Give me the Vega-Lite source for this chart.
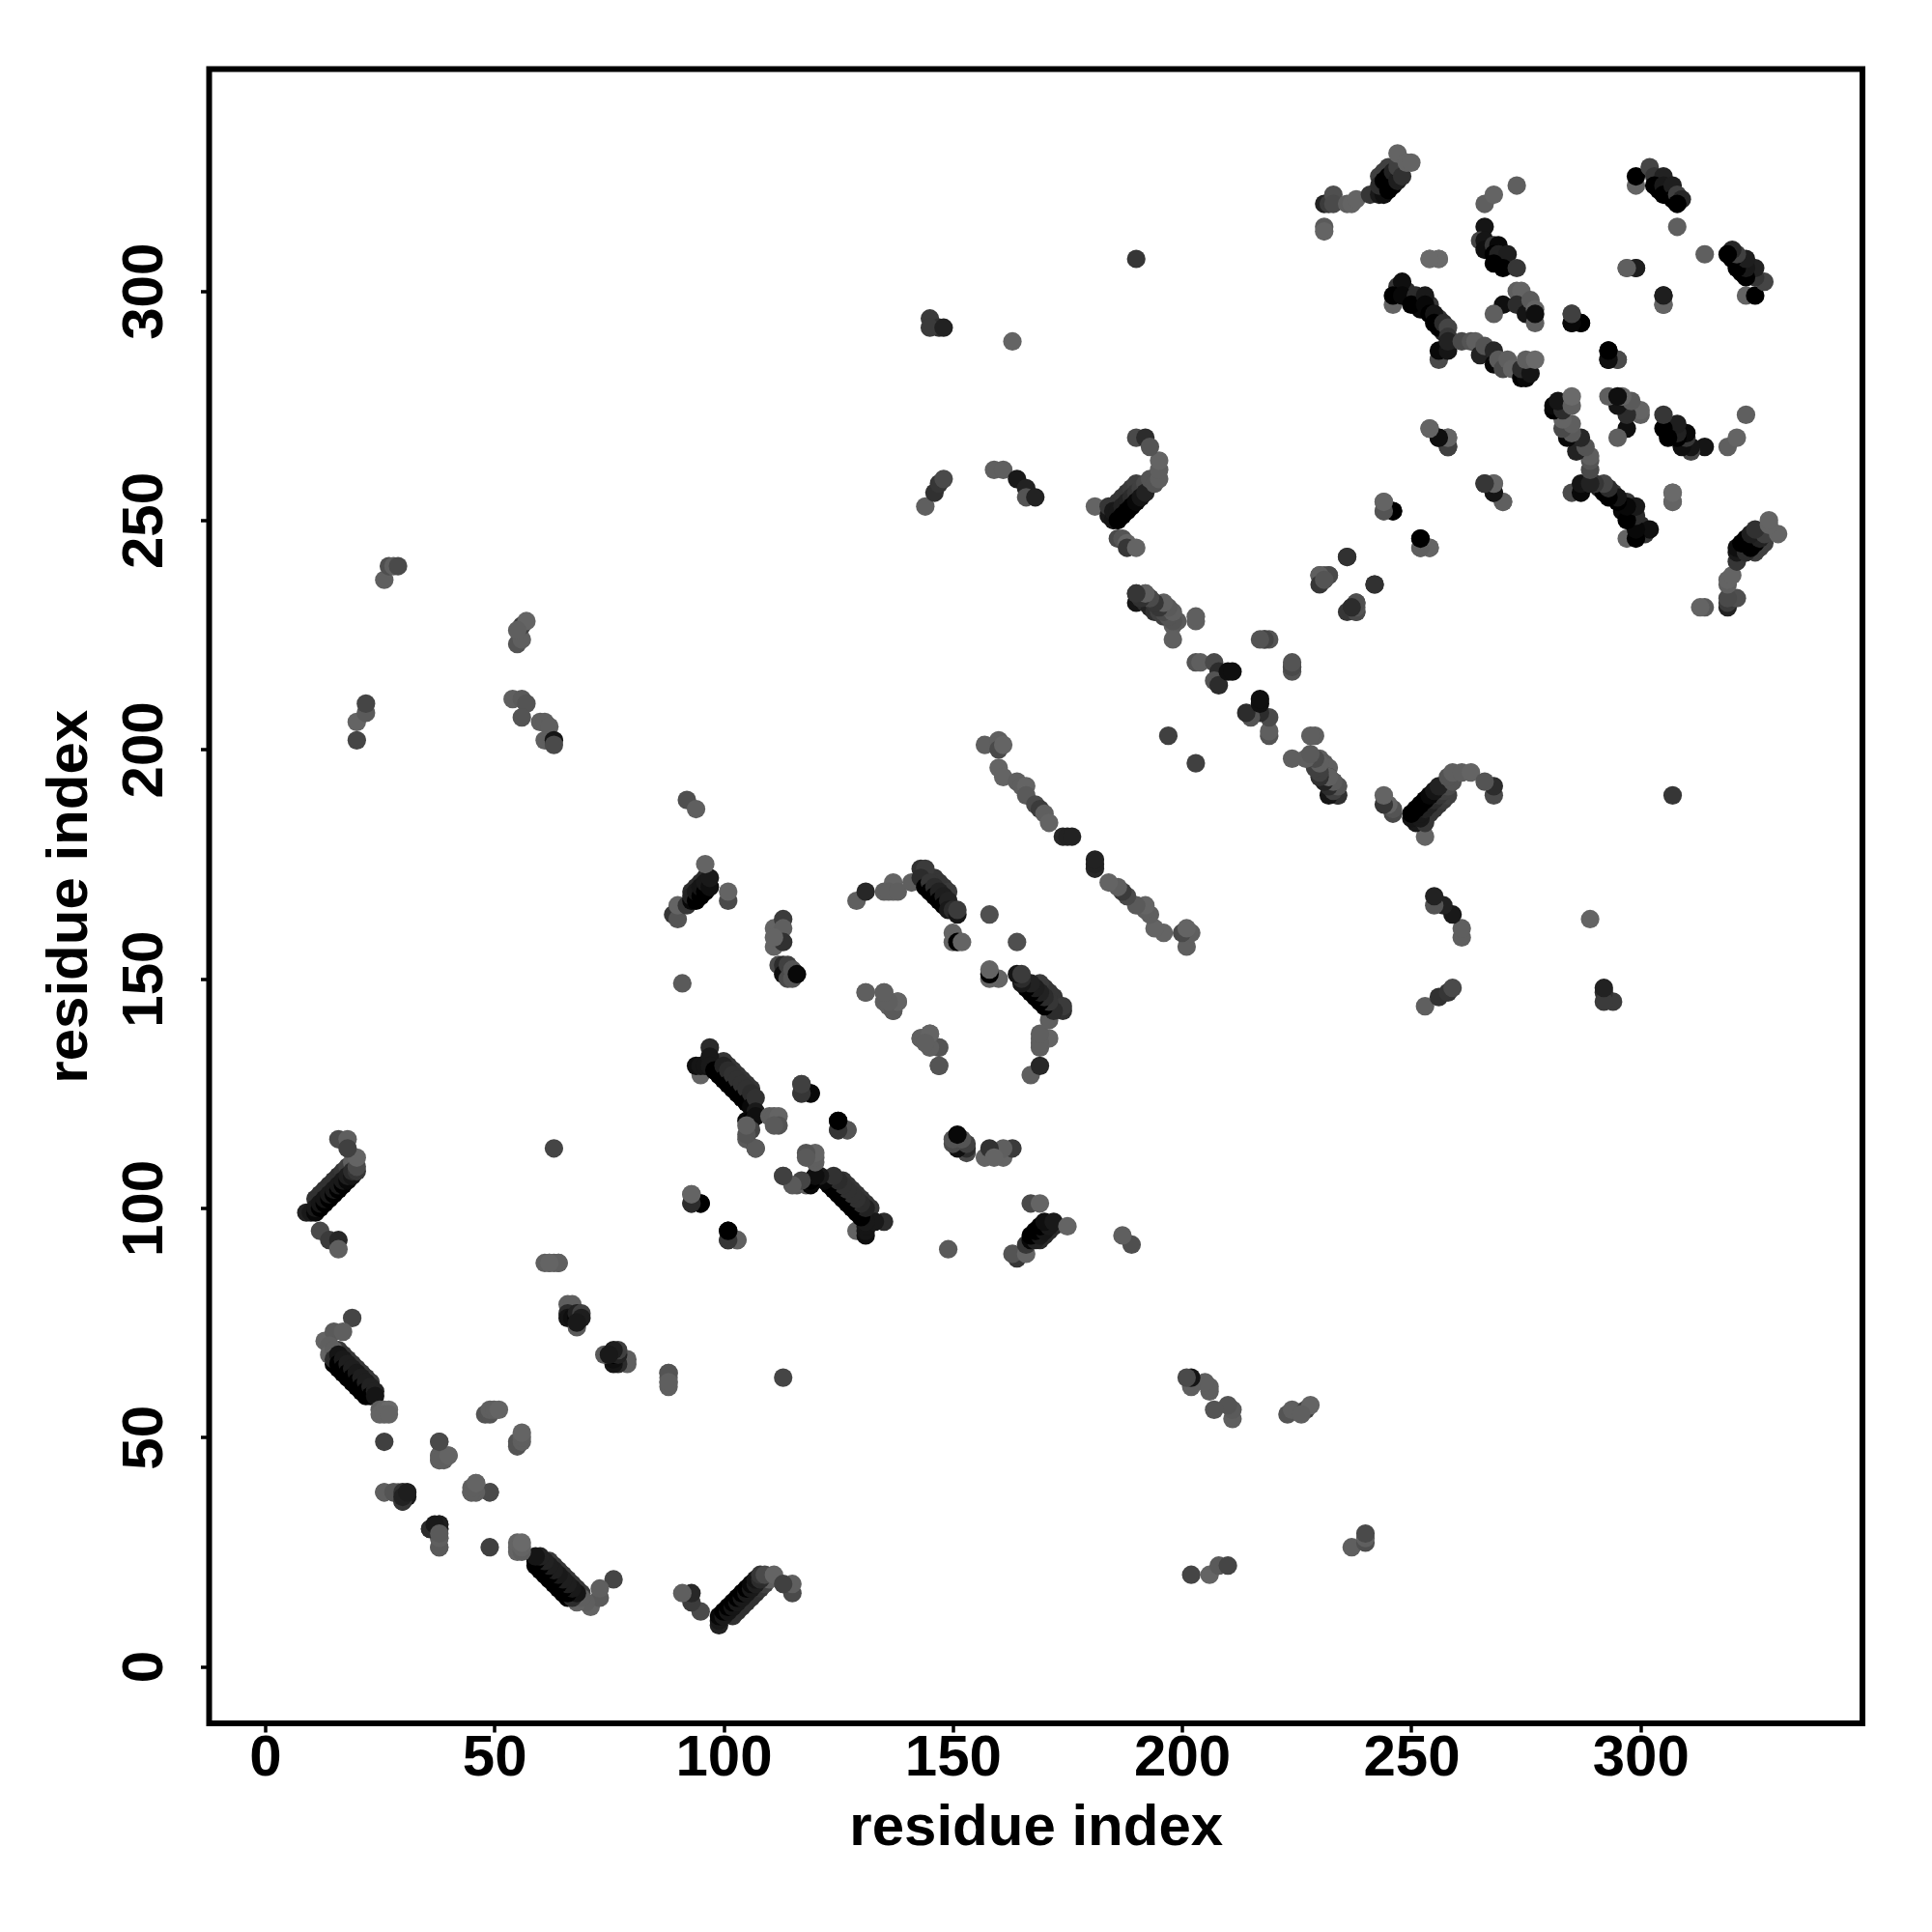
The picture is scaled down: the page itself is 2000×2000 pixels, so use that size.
{"$schema":"https://vega.github.io/schema/vega-lite/v6.json","autosize":"none","padding":{"left":216.5,"top":71.5,"right":72,"bottom":216},"width":1711.5,"height":1712.5,"background":"white","config":{"view":{"stroke":"black","strokeWidth":6,"fill":"white"},"font":"Liberation Sans"},
"data":{"values":[
{"a":100,"b":132,"s":0.5},{"a":101,"b":131,"s":0.5},{"a":102,"b":130,"s":0.5},{"a":103,"b":129,"s":0.5},{"a":104,"b":128,"s":0.5},{"a":105,"b":127,"s":0.5},{"a":106,"b":126,"s":0.5},
{"a":186,"b":254,"s":0.5},{"a":187,"b":255,"s":0.5},{"a":188,"b":256,"s":0.5},{"a":189,"b":257,"s":0.45},{"a":190,"b":258,"s":0.4},
{"a":146,"b":172,"s":0.5},{"a":147,"b":171,"s":0.5},{"a":148,"b":170,"s":0.5},{"a":149,"b":169,"s":0.45},
{"a":243,"b":325,"s":0.4},{"a":244,"b":326,"s":0.4},{"a":245,"b":327,"s":0.4},
{"a":11,"b":102,"s":0.55},{"a":12,"b":103,"s":0.55},{"a":13,"b":104,"s":0.55},{"a":14,"b":105,"s":0.55},{"a":15,"b":106,"s":0.55},{"a":16,"b":107,"s":0.55},{"a":17,"b":108,"s":0.5},{"a":18,"b":109,"s":0.4},{"a":19,"b":110,"s":0.1},
{"a":16,"b":69,"s":0.45},{"a":17,"b":68,"s":0.5},{"a":18,"b":67,"s":0.5},{"a":19,"b":66,"s":0.5},{"a":20,"b":65,"s":0.5},{"a":21,"b":64,"s":0.5},{"a":22,"b":63,"s":0.5},{"a":23,"b":62,"s":0.45},{"a":15,"b":66,"s":1},{"a":16,"b":65,"s":1},{"a":17,"b":64,"s":1},{"a":18,"b":63,"s":1},{"a":19,"b":62,"s":1},{"a":20,"b":61,"s":1},{"a":21,"b":60,"s":1},{"a":22,"b":59,"s":1},
{"a":93,"b":169,"s":0.6},{"a":94,"b":170,"s":0.6},{"a":95,"b":171,"s":0.6},{"a":96,"b":172,"s":0.6},
{"a":247,"b":301,"s":0.5},{"a":249,"b":300,"s":0.6},{"a":250,"b":299,"s":0.6},{"a":252,"b":298,"s":0.6},{"a":251,"b":297,"s":0.8},{"a":252,"b":296,"s":0.95},{"a":254,"b":297,"s":0.5},{"a":256,"b":294,"s":0.5},{"a":257,"b":291,"s":0.7},
{"a":9,"b":99,"s":0.7},{"a":10,"b":99,"s":0.8},{"a":11,"b":99,"s":0.95},{"a":11,"b":100,"s":0.8},{"a":12,"b":100,"s":1},{"a":12,"b":101,"s":0.85},{"a":13,"b":101,"s":1},{"a":13,"b":102,"s":0.85},{"a":14,"b":102,"s":1},{"a":14,"b":103,"s":0.8},{"a":15,"b":103,"s":1},{"a":15,"b":104,"s":0.8},{"a":16,"b":104,"s":1},{"a":16,"b":105,"s":0.8},{"a":17,"b":105,"s":1},{"a":17,"b":106,"s":0.8},{"a":18,"b":106,"s":0.95},{"a":18,"b":107,"s":0.75},{"a":19,"b":107,"s":0.85},{"a":19,"b":108,"s":0.6},{"a":20,"b":108,"s":0.5},{"a":20,"b":109,"s":0.3},{"a":20,"b":111,"s":0.05},{"a":12,"b":95,"s":0.3},{"a":14,"b":93,"s":0.45},{"a":16,"b":93,"s":0.65},{"a":16,"b":91,"s":0.1},{"a":16,"b":115,"s":0.3},{"a":18,"b":115,"s":0.1},{"a":18,"b":113,"s":0.4},
{"a":19,"b":76,"s":0.35},{"a":13,"b":71,"s":0.05},{"a":15,"b":73,"s":0.15},{"a":17,"b":73,"s":0.1},{"a":14,"b":70,"s":0.1},{"a":14,"b":68,"s":0.05},{"a":15,"b":69,"s":0.1},{"a":15,"b":67,"s":0.6},{"a":16,"b":68,"s":0.85},{"a":16,"b":66,"s":1},{"a":17,"b":67,"s":0.8},{"a":17,"b":65,"s":1},{"a":18,"b":66,"s":0.75},{"a":18,"b":64,"s":1},{"a":19,"b":65,"s":0.75},{"a":19,"b":63,"s":1},{"a":20,"b":64,"s":0.8},{"a":20,"b":62,"s":1},{"a":21,"b":63,"s":0.75},{"a":21,"b":61,"s":1},{"a":22,"b":62,"s":0.75},{"a":22,"b":60,"s":1},{"a":23,"b":61,"s":0.7},{"a":23,"b":59,"s":1},{"a":24,"b":60,"s":0.7},{"a":24,"b":59,"s":0.85},{"a":25,"b":56,"s":0.1},{"a":26,"b":56,"s":0.05},{"a":27,"b":56,"s":0},{"a":26,"b":49,"s":0.4},
{"a":26,"b":38,"s":0.15},{"a":28,"b":38,"s":0.1},{"a":30,"b":38,"s":0.7},{"a":30,"b":37,"s":0.95},{"a":30,"b":36,"s":0.6},{"a":31,"b":38,"s":0.75},{"a":31,"b":37,"s":0.8},{"a":29,"b":38,"s":0.15},
{"a":38,"b":49,"s":0.3},{"a":38,"b":46,"s":0.1},{"a":38,"b":45,"s":0.1},{"a":39,"b":45,"s":0.1},{"a":40,"b":46,"s":0.05},{"a":46,"b":38,"s":0.1},{"a":45,"b":38,"s":0.1},{"a":46,"b":40,"s":0.05},{"a":49,"b":38,"s":0.3},{"a":38,"b":26,"s":0.1},{"a":38,"b":28,"s":0.2},{"a":38,"b":30,"s":0.55},{"a":36,"b":30,"s":0.5},{"a":37,"b":30,"s":0.7},{"a":38,"b":31,"s":0.75},
{"a":48,"b":55,"s":0.2},{"a":49,"b":55,"s":0.2},{"a":49,"b":56,"s":0.1},{"a":50,"b":56,"s":0.1},{"a":51,"b":56,"s":0.05},
{"a":55,"b":25,"s":0.05},{"a":55,"b":26,"s":0.05},{"a":55,"b":27,"s":0.05},
{"a":61,"b":88,"s":0.1},{"a":63,"b":88,"s":0.1},{"a":64,"b":88,"s":0.2},
{"a":66,"b":79,"s":0.1},{"a":67,"b":79,"s":0.1},{"a":66,"b":77,"s":0.6},{"a":66,"b":76,"s":0.85},{"a":67,"b":76,"s":0.9},{"a":68,"b":76,"s":1},{"a":68,"b":77,"s":0.7},{"a":68,"b":74,"s":0.15},{"a":69,"b":77,"s":0.4},{"a":69,"b":76,"s":0.75},{"a":68,"b":75,"s":0.8},
{"a":62,"b":88,"s":0.1},{"a":88,"b":64,"s":0.1},{"a":88,"b":62,"s":0.05},{"a":63,"b":113,"s":0.35},
{"a":20,"b":202,"s":0.35},{"a":20,"b":206,"s":0.05},{"a":22,"b":208,"s":0.15},{"a":22,"b":210,"s":0.35},{"a":26,"b":237,"s":0.1},{"a":27,"b":240,"s":0.25},{"a":28,"b":240,"s":0.1},{"a":29,"b":240,"s":0.3},
{"a":54,"b":211,"s":0.1},{"a":56,"b":211,"s":0.15},{"a":57,"b":210,"s":0.2},{"a":56,"b":207,"s":0.2},{"a":60,"b":206,"s":0.1},{"a":61,"b":206,"s":0.1},{"a":62,"b":205,"s":0.1},{"a":61,"b":202,"s":0.1},{"a":63,"b":202,"s":0.85},{"a":63,"b":201,"s":0.3},{"a":55,"b":223,"s":0.2},{"a":56,"b":224,"s":0.1},{"a":56,"b":227,"s":0.4},{"a":57,"b":228,"s":0.05},{"a":55,"b":226,"s":0.1},
{"a":89,"b":164,"s":0.5},{"a":90,"b":163,"s":0.2},{"a":90,"b":166,"s":0.05},{"a":92,"b":166,"s":0.5},{"a":93,"b":167,"s":0.95},{"a":93,"b":168,"s":0.7},{"a":94,"b":167,"s":1},{"a":94,"b":169,"s":0.8},{"a":95,"b":168,"s":1},{"a":95,"b":170,"s":0.85},{"a":96,"b":169,"s":1},{"a":96,"b":171,"s":0.8},{"a":97,"b":170,"s":0.9},{"a":97,"b":172,"s":0.8},{"a":96,"b":175,"s":0.05},{"a":101,"b":167,"s":0.3},{"a":101,"b":169,"s":0.05},{"a":92,"b":189,"s":0.25},{"a":94,"b":187,"s":0.1},{"a":91,"b":149,"s":0.15},
{"a":93,"b":103,"s":0.1},{"a":93,"b":101,"s":0.5},{"a":95,"b":101,"s":1},{"a":101,"b":95,"s":1},{"a":101,"b":93,"s":0.6},{"a":103,"b":93,"s":0.05},
{"a":95,"b":129,"s":0.05},{"a":94,"b":131,"s":0.9},{"a":95,"b":131,"s":0.85},{"a":96,"b":131,"s":0.85},{"a":97,"b":135,"s":0.6},{"a":97,"b":133,"s":0.8},{"a":97,"b":131,"s":0.8},{"a":98,"b":130,"s":1},{"a":99,"b":129,"s":1},{"a":100,"b":131,"s":0.7},{"a":100,"b":128,"s":1},{"a":101,"b":130,"s":0.6},{"a":101,"b":127,"s":1},{"a":102,"b":129,"s":0.55},{"a":102,"b":126,"s":1},{"a":103,"b":128,"s":0.55},{"a":103,"b":125,"s":1},{"a":104,"b":127,"s":0.55},{"a":104,"b":124,"s":1},{"a":105,"b":126,"s":0.55},{"a":105,"b":123,"s":1},{"a":106,"b":125,"s":0.6},{"a":106,"b":122,"s":0.95},{"a":107,"b":124,"s":0.55},{"a":107,"b":121,"s":0.8},{"a":105,"b":119,"s":0.95},{"a":106,"b":119,"s":1},{"a":107,"b":120,"s":0.9},{"a":106,"b":117,"s":0.35},{"a":105,"b":115,"s":0.15},{"a":107,"b":113,"s":0.4},{"a":110,"b":120,"s":0.1},{"a":111,"b":120,"s":0.1},{"a":112,"b":120,"s":0.05},{"a":112,"b":118,"s":0.2},{"a":111,"b":118,"s":0.15},
{"a":111,"b":157,"s":0.05},{"a":111,"b":161,"s":0.05},{"a":113,"b":163,"s":0.45},{"a":113,"b":161,"s":0.1},{"a":113,"b":158,"s":0.55},{"a":111,"b":159,"s":0.05},{"a":112,"b":153,"s":0.3},{"a":113,"b":153,"s":0.6},{"a":113,"b":151,"s":0.9},{"a":114,"b":153,"s":0.4},{"a":114,"b":150,"s":0.3},{"a":115,"b":152,"s":0.2},{"a":115,"b":150,"s":0.2},{"a":116,"b":151,"s":0.95},
{"a":113,"b":107,"s":0.15},{"a":116,"b":105,"s":0.2},{"a":118,"b":105,"s":0.1},
{"a":117,"b":127,"s":0.2},{"a":117,"b":125,"s":0.5},{"a":119,"b":125,"s":1},{"a":125,"b":119,"s":0.95},{"a":125,"b":117,"s":0.5},{"a":127,"b":117,"s":0.4},
{"a":129,"b":167,"s":0.1},{"a":131,"b":169,"s":0.65},{"a":135,"b":169,"s":0.1},{"a":137,"b":169,"s":0.05},{"a":137,"b":171,"s":0.05},{"a":136,"b":169,"s":0.1},{"a":138,"b":169,"s":0.1},{"a":141,"b":171,"s":0.1},
{"a":143,"b":174,"s":0.55},{"a":144,"b":174,"s":0.45},{"a":143,"b":172,"s":0.6},{"a":144,"b":170,"s":1},{"a":145,"b":171,"s":0.5},{"a":145,"b":169,"s":1},{"a":146,"b":170,"s":0.6},{"a":146,"b":168,"s":1},{"a":147,"b":169,"s":0.7},{"a":147,"b":167,"s":1},{"a":148,"b":168,"s":0.75},{"a":148,"b":166,"s":1},{"a":149,"b":167,"s":0.7},{"a":149,"b":165,"s":0.8},{"a":150,"b":165,"s":0.6},{"a":151,"b":164,"s":0.85},{"a":151,"b":165,"s":0.45},{"a":150,"b":160,"s":0.05},{"a":150,"b":158,"s":0.05},{"a":151,"b":158,"s":1},{"a":152,"b":158,"s":0.05},{"a":158,"b":164,"s":0.25},
{"a":131,"b":147,"s":0.2},{"a":135,"b":147,"s":0.2},{"a":135,"b":145,"s":0.1},{"a":137,"b":143,"s":0.1},{"a":138,"b":145,"s":0.05},{"a":136,"b":144,"s":0.1},
{"a":143,"b":137,"s":0.15},{"a":145,"b":138,"s":0.05},{"a":145,"b":136,"s":0.1},{"a":147,"b":135,"s":0.1},{"a":147,"b":131,"s":0.1},
{"a":157,"b":201,"s":0.1},{"a":160,"b":202,"s":0.1},{"a":160,"b":200,"s":0.3},{"a":161,"b":201,"s":0.05},{"a":160,"b":196,"s":0.05},{"a":161,"b":194,"s":0.05},{"a":164,"b":193,"s":0.1},{"a":165,"b":192,"s":0.1},{"a":166,"b":192,"s":0.05},{"a":166,"b":190,"s":0.15},{"a":168,"b":188,"s":0.3},{"a":169,"b":187,"s":0.45},{"a":170,"b":186,"s":0.1},{"a":171,"b":184,"s":0.05},{"a":174,"b":181,"s":0.65},{"a":175,"b":181,"s":0.7},{"a":176,"b":181,"s":0.7},
{"a":145,"b":294,"s":0.45},{"a":147,"b":292,"s":0.55},{"a":145,"b":292,"s":0.45},{"a":148,"b":292,"s":0.7},{"a":163,"b":289,"s":0.05},
{"a":144,"b":253,"s":0.1},{"a":146,"b":256,"s":0.55},{"a":147,"b":258,"s":0.5},{"a":148,"b":259,"s":0.3},{"a":159,"b":261,"s":0.1},{"a":161,"b":261,"s":0.1},{"a":164,"b":259,"s":0.8},{"a":166,"b":257,"s":0.7},{"a":166,"b":255,"s":0.2},{"a":168,"b":255,"s":0.7},
{"a":190,"b":307,"s":0.5},
{"a":181,"b":253,"s":0.05},{"a":184,"b":251,"s":0.8},{"a":184,"b":253,"s":0.5},{"a":185,"b":250,"s":0.85},{"a":185,"b":252,"s":0.8},{"a":186,"b":252,"s":0.8},{"a":186,"b":250,"s":1},{"a":187,"b":253,"s":0.7},{"a":187,"b":251,"s":1},{"a":188,"b":254,"s":0.7},{"a":188,"b":252,"s":1},{"a":189,"b":255,"s":0.6},{"a":189,"b":253,"s":1},{"a":190,"b":256,"s":0.5},{"a":190,"b":254,"s":0.95},{"a":191,"b":257,"s":0.4},{"a":191,"b":255,"s":0.85},{"a":192,"b":258,"s":0.3},{"a":192,"b":256,"s":0.7},{"a":193,"b":259,"s":0.2},{"a":194,"b":258,"s":0.2},{"a":195,"b":259,"s":0.1},{"a":195,"b":261,"s":0.1},{"a":195,"b":263,"s":0.05},{"a":190,"b":268,"s":0.3},{"a":192,"b":268,"s":0.6},{"a":193,"b":266,"s":0.2},{"a":186,"b":246,"s":0.3},{"a":187,"b":246,"s":0.2},{"a":188,"b":245,"s":0.05},{"a":188,"b":244,"s":0.5},{"a":190,"b":244,"s":0.05},
{"a":190,"b":234,"s":0.55},{"a":190,"b":232,"s":0.85},{"a":191,"b":233,"s":0.4},{"a":192,"b":234,"s":0.2},{"a":192,"b":232,"s":0.6},{"a":193,"b":233,"s":0.15},{"a":193,"b":231,"s":0.7},{"a":194,"b":232,"s":0.1},{"a":194,"b":230,"s":0.55},{"a":195,"b":230,"s":0.4},{"a":196,"b":229,"s":0.4},{"a":197,"b":230,"s":0.1},{"a":198,"b":229,"s":0.3},{"a":198,"b":227,"s":0.1},{"a":199,"b":228,"s":0.15},{"a":198,"b":224,"s":0.1},
{"a":197,"b":203,"s":0.4},{"a":203,"b":228,"s":0.1},{"a":203,"b":219,"s":0.2},{"a":204,"b":219,"s":0.1},{"a":207,"b":219,"s":0.3},{"a":208,"b":217,"s":0.6},{"a":207,"b":215,"s":0.2},{"a":208,"b":214,"s":0.6},{"a":210,"b":217,"s":0.9},{"a":211,"b":217,"s":0.9},{"a":218,"b":224,"s":0.3},{"a":219,"b":224,"s":0.2},{"a":224,"b":218,"s":0.35},{"a":224,"b":217,"s":0.2},{"a":229,"b":203,"s":0.1},
{"a":231,"b":319,"s":0.7},{"a":232,"b":319,"s":0.45},{"a":233,"b":321,"s":0.25},{"a":233,"b":319,"s":0.3},{"a":231,"b":314,"s":0.15},{"a":231,"b":313,"s":0.05},{"a":236,"b":319,"s":0.1},{"a":237,"b":319,"s":0.05},{"a":238,"b":320,"s":0.05},{"a":241,"b":321,"s":0.5},{"a":243,"b":321,"s":0.8},{"a":244,"b":321,"s":0.9},{"a":243,"b":323,"s":0.6},{"a":244,"b":324,"s":1},{"a":245,"b":322,"s":1},{"a":245,"b":325,"s":1},{"a":246,"b":323,"s":1},{"a":246,"b":326,"s":0.7},{"a":247,"b":324,"s":0.75},{"a":247,"b":327,"s":0.4},{"a":248,"b":325,"s":0.55},{"a":247,"b":330,"s":0.05},{"a":249,"b":328,"s":0.05},{"a":250,"b":328,"s":0.05},
{"a":266,"b":319,"s":0.1},{"a":268,"b":321,"s":0.05},{"a":273,"b":323,"s":0.1},{"a":266,"b":314,"s":0.85},{"a":265,"b":311,"s":0.35},{"a":266,"b":311,"s":0.85},{"a":266,"b":309,"s":0.9},{"a":268,"b":310,"s":0.5},{"a":269,"b":310,"s":0.95},{"a":268,"b":308,"s":1},{"a":269,"b":308,"s":0.7},{"a":271,"b":308,"s":0.75},{"a":268,"b":306,"s":1},{"a":270,"b":305,"s":1},{"a":273,"b":305,"s":0.5},{"a":254,"b":307,"s":0.05},{"a":256,"b":307,"s":0},
{"a":246,"b":297,"s":0.05},{"a":248,"b":302,"s":0.9},{"a":246,"b":299,"s":1},{"a":248,"b":299,"s":0.95},{"a":251,"b":299,"s":0.6},{"a":250,"b":297,"s":1},{"a":253,"b":299,"s":0.8},{"a":253,"b":297,"s":0.95},{"a":254,"b":295,"s":1},{"a":255,"b":295,"s":0.85},{"a":255,"b":293,"s":1},{"a":256,"b":292,"s":1},{"a":257,"b":293,"s":0.6},{"a":258,"b":292,"s":0.35},{"a":258,"b":290,"s":0.5},{"a":256,"b":285,"s":0.3},{"a":256,"b":287,"s":0.95},{"a":258,"b":287,"s":0.85},{"a":258,"b":289,"s":0.7},{"a":261,"b":289,"s":0.3},{"a":263,"b":289,"s":0.2},{"a":264,"b":289,"s":0.1},{"a":265,"b":286,"s":0.7},{"a":266,"b":288,"s":0.2},{"a":268,"b":287,"s":0.65},{"a":268,"b":284,"s":0.95},{"a":269,"b":285,"s":0.15},{"a":270,"b":283,"s":0.3},{"a":271,"b":285,"s":0.1},{"a":272,"b":283,"s":0.05},{"a":274,"b":281,"s":1},{"a":275,"b":281,"s":0.95},{"a":274,"b":283,"s":0.6},{"a":276,"b":282,"s":0.85},{"a":275,"b":285,"s":0.1},{"a":277,"b":285,"s":0},
{"a":270,"b":297,"s":0.9},{"a":268,"b":295,"s":0.1},{"a":273,"b":300,"s":0.1},{"a":274,"b":300,"s":0.05},{"a":273,"b":297,"s":0.6},{"a":275,"b":295,"s":0.85},{"a":276,"b":298,"s":0.15},{"a":277,"b":296,"s":0.05},{"a":277,"b":293,"s":0.1},{"a":277,"b":295,"s":0.9},
{"a":285,"b":295,"s":0.3},{"a":285,"b":293,"s":0.9},{"a":287,"b":293,"s":1},{"a":293,"b":287,"s":1},{"a":293,"b":285,"s":0.95},{"a":295,"b":285,"s":0.4},{"a":297,"b":305,"s":0.05},{"a":299,"b":305,"s":0.75},{"a":305,"b":299,"s":0.75},{"a":305,"b":297,"s":0.1},
{"a":299,"b":323,"s":0.05},{"a":299,"b":325,"s":1},{"a":302,"b":327,"s":0.35},{"a":303,"b":325,"s":0.5},{"a":305,"b":325,"s":0.7},{"a":303,"b":323,"s":1},{"a":304,"b":322,"s":1},{"a":305,"b":323,"s":0.8},{"a":305,"b":321,"s":1},{"a":306,"b":321,"s":1},{"a":307,"b":323,"s":0.75},{"a":307,"b":320,"s":1},{"a":308,"b":321,"s":0.4},{"a":309,"b":320,"s":0.65},{"a":308,"b":319,"s":1},{"a":308,"b":314,"s":0.1},
{"a":254,"b":270,"s":0.1},{"a":256,"b":268,"s":0.85},{"a":258,"b":268,"s":0.05},{"a":258,"b":266,"s":0.5},{"a":266,"b":258,"s":0.4},{"a":268,"b":258,"s":0.05},{"a":268,"b":256,"s":0.9},{"a":270,"b":254,"s":0.05},{"a":244,"b":254,"s":0.05},{"a":244,"b":252,"s":0.1},{"a":246,"b":252,"s":1},{"a":252,"b":246,"s":1},{"a":252,"b":244,"s":0.2},{"a":254,"b":244,"s":0.05},{"a":307,"b":256,"s":0},{"a":307,"b":254,"s":0},
{"a":236,"b":242,"s":0.55},{"a":230,"b":238,"s":0.3},{"a":231,"b":238,"s":0.2},{"a":232,"b":238,"s":0.25},{"a":231,"b":237,"s":0.6},{"a":242,"b":236,"s":0.55},{"a":238,"b":232,"s":0.3},{"a":238,"b":230,"s":0.1},{"a":236,"b":230,"s":0.5},{"a":237,"b":231,"s":0.2},
{"a":228,"b":198,"s":0.2},{"a":229,"b":197,"s":0.2},{"a":230,"b":196,"s":0.3},{"a":230,"b":198,"s":0.1},{"a":231,"b":197,"s":0.15},{"a":231,"b":195,"s":0.5},{"a":232,"b":196,"s":0.1},{"a":232,"b":194,"s":0.5},{"a":233,"b":193,"s":0.3},{"a":233,"b":191,"s":0.55},{"a":234,"b":192,"s":0.1},{"a":234,"b":190,"s":0.5}
]},
"layer":[
{"mark":{"type":"point","filled":true,"opacity":1,"size":370},"encoding":{
"x":{"field":"a","type":"quantitative","scale":{"domain":[-12.2,348.4],"nice":false,"zero":false},"axis":{"title":"residue index","values":[0,50,100,150,200,250,300],"grid":false,"domain":false,"tickColor":"black","tickWidth":3.5,"tickSize":9,"labelFontSize":60,"labelFontWeight":"bold","labelColor":"black","labelPadding":-3,"titleFontSize":60,"titleFontWeight":"bold","titleColor":"black","titlePadding":13}},
"y":{"field":"b","type":"quantitative","scale":{"domain":[-12.4,348.4],"nice":false,"zero":false},"axis":{"title":"residue index","values":[0,50,100,150,200,250,300],"grid":false,"domain":false,"tickColor":"black","tickWidth":3.5,"tickSize":9,"labelFontSize":60,"labelFontWeight":"bold","labelColor":"black","labelAngle":270,"labelAlign":"center","labelBaseline":"bottom","labelPadding":27,"titleFontSize":60,"titleFontWeight":"bold","titleColor":"black","titlePadding":17}},
"color":{"field":"s","type":"quantitative","scale":{"domain":[0,1],"range":["#6a6a6a","#000000"]},"legend":null}}},
{"mark":{"type":"point","filled":true,"opacity":1,"size":370},"encoding":{
"x":{"field":"b","type":"quantitative"},
"y":{"field":"a","type":"quantitative"},
"color":{"field":"s","type":"quantitative","legend":null}}}
]}
